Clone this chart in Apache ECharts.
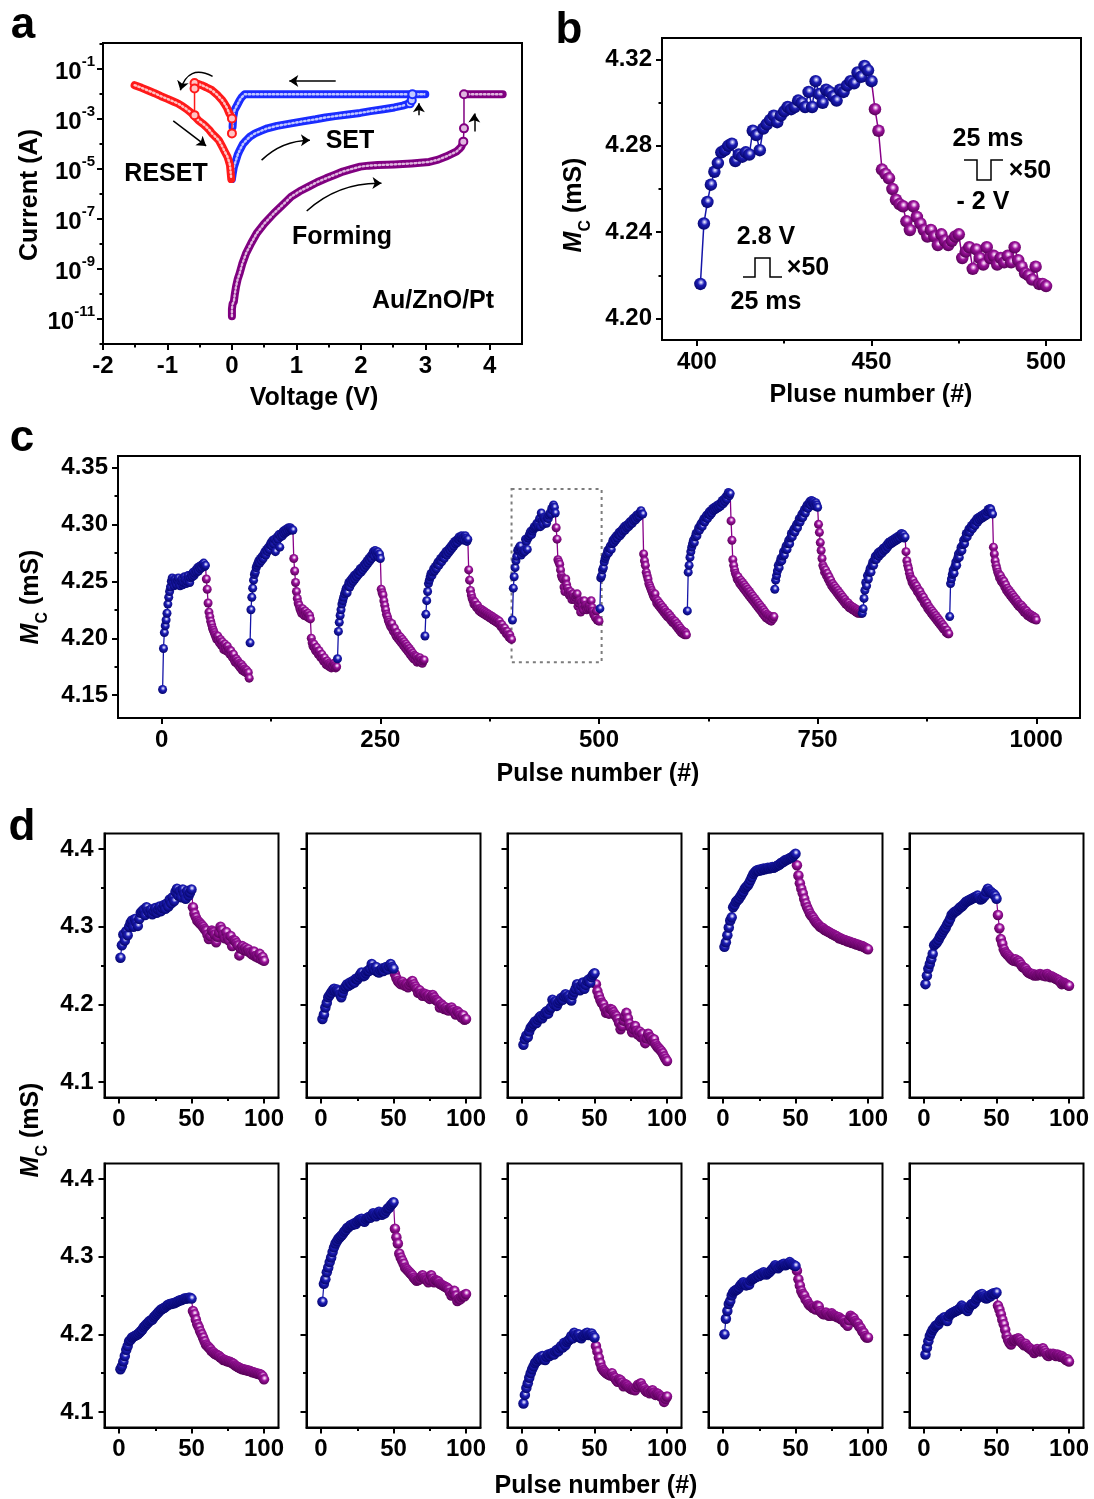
<!DOCTYPE html>
<html>
<head>
<meta charset="utf-8">
<script src="https://cdn.jsdelivr.net/npm/echarts@6/dist/echarts.min.js"></script>
<style>
  html, body { margin: 0; padding: 0; background: #fff; }
  #chart { width: 1094px; height: 1499px; }
</style>
</head>
<body>
<div id="chart"></div>
<script>
const FONT = '"Liberation Sans", Arial, sans-serif';

// ---------- (a) I-V sweeps, [voltage (V), current (A)] ----------
const formingIV = [[0,1.3e-11],[0,2.5e-11],[0.01,4e-11],[0.03,5e-11],[0.045,1e-10],[0.064,2e-10],[0.09,4e-10],[0.12,6.8e-10],[0.16,1.6e-9],[0.22,4.3e-9],[0.3,1.1e-8],[0.385,2.7e-8],[0.5,6.5e-8],[0.65,1.7e-7],[0.8,4e-7],[0.92,8e-7],[1.05,1.3e-6],[1.19,2e-6],[1.32,3e-6],[1.46,4.3e-6],[1.6,6e-6],[1.72,8e-6],[1.85,1e-5],[1.99,1.26e-5],[2.12,1.38e-5],[2.26,1.45e-5],[2.4,1.5e-5],[2.52,1.55e-5],[2.65,1.62e-5],[2.79,1.7e-5],[2.92,1.8e-5],[3.06,1.95e-5],[3.2,2.4e-5],[3.32,3.2e-5],[3.4,4e-5],[3.48,5e-5],[3.53,6.5e-5],[3.56,8e-5],[3.59,1.26e-4]];
const formingJumpIV = [[3.59,1.26e-4],[3.6,4.3e-4],[3.6,1e-2]];
const formingTopIV = [[3.6,1e-2],[3.7,1e-2],[3.8,1e-2],[3.9,1e-2],[4.0,1e-2],[4.1,1e-2],[4.2,1e-2]];
const setForwardIV = [[0,4e-6],[0.01,6e-6],[0.03,1.2e-5],[0.064,2.3e-5],[0.09,3.8e-5],[0.12,5.7e-5],[0.17,1e-4],[0.22,1.4e-4],[0.28,2e-4],[0.36,2.7e-4],[0.45,3.4e-4],[0.55,4.3e-4],[0.7,5.4e-4],[0.92,6.8e-4],[1.1,8.2e-4],[1.3,9.9e-4],[1.45,1.17e-3],[1.6,1.33e-3],[1.8,1.55e-3],[1.99,1.78e-3],[2.15,2.1e-3],[2.35,2.5e-3],[2.52,2.95e-3],[2.65,3.5e-3],[2.76,4.3e-3]];
const setJumpIV = [[2.76,4.3e-3],[2.79,5.7e-3],[2.8,1e-2]];
const setReturnIV = [[2.8,1e-2],[3.0,1e-2],[2.6,1e-2],[2.2,1e-2],[1.8,1e-2],[1.4,1e-2],[1.0,1e-2],[0.6,1e-2],[0.3,1e-2],[0.2,1e-2],[0.15,7.5e-3],[0.12,5.7e-3],[0.08,3.6e-3],[0.04,2.3e-3],[0.02,1.2e-3],[0.01,4.9e-4]];
const resetUpperIV = [[0,1.07e-3],[-0.02,1.4e-3],[-0.04,1.7e-3],[-0.08,3e-3],[-0.12,4.4e-3],[-0.15,5.7e-3],[-0.22,9e-3],[-0.31,1.45e-2],[-0.4,1.9e-2],[-0.47,2.3e-2],[-0.53,2.6e-2],[-0.58,2.8e-2]];
const resetJumpIV = [[0,2.7e-4],[0,1.07e-3]];
const resetDropIV = [[-0.58,2.8e-2],[-0.58,1.7e-2],[-0.58,1.45e-3]];
const resetLowerIV = [[-1.51,2.3e-2],[-1.4,1.8e-2],[-1.3,1.4e-2],[-1.2,1.1e-2],[-1.1,8.3e-3],[-1.0,6.5e-3],[-0.9,5e-3],[-0.84,4.3e-3],[-0.77,3.3e-3],[-0.7,2.5e-3],[-0.62,1.7e-3],[-0.52,9e-4],[-0.45,6.5e-4],[-0.4,5e-4],[-0.35,3.7e-4],[-0.31,2.7e-4],[-0.25,1.9e-4],[-0.2,1.4e-4],[-0.15,8e-5],[-0.11,5e-5],[-0.07,3.2e-5],[-0.05,2.2e-5],[-0.03,1.45e-5],[-0.01,4e-6]];
// sweep-direction arrows: [[V1, I1], [V2, I2], curveness]
const sweepArrows = [
  [[1.61,3.4e-2],[0.89,3.4e-2],0],
  [[2.9,1.45e-3],[2.9,4.3e-3],0],
  [[3.76,3.2e-4],[3.76,1.7e-3],0],
  [[-0.3,5.2e-2],[-0.8,1.45e-2],-0.6],
  [[-0.91,8.5e-4],[-0.4,8.5e-5],0],
  [[0.46,2.3e-5],[1.21,1.45e-4],0.2],
  [[1.16,2.1e-7],[2.32,2.7e-6],0.2]
];
const aVoltTicks = [-2,-1,0,1,2,3,4];
const aVoltMinor = [-1.5,-0.5,0.5,1.5,2.5,3.5];
const aExpLabels = [-11,-9,-7,-5,-3,-1];
const aExpMinor = [-12,-10,-8,-6,-4,-2,0];

// ---------- (b) pulses 401-500 ----------
const bFirstPulse = 401;
const bBlue = [4.216,4.244,4.254,4.262,4.268,4.272,4.277,4.278,4.280,4.281,4.273,4.276,4.275,4.277,4.276,4.287,4.285,4.278,4.288,4.290,4.292,4.294,4.291,4.294,4.296,4.298,4.297,4.298,4.301,4.300,4.298,4.305,4.298,4.310,4.304,4.300,4.306,4.305,4.303,4.301,4.306,4.305,4.308,4.310,4.309,4.314,4.312,4.317,4.315,4.310];
const bPurple = [4.297,4.287,4.269,4.267,4.265,4.260,4.255,4.253,4.252,4.245,4.241,4.252,4.247,4.244,4.241,4.238,4.241,4.238,4.234,4.239,4.236,4.234,4.236,4.238,4.239,4.228,4.231,4.233,4.223,4.232,4.228,4.225,4.233,4.228,4.229,4.225,4.228,4.226,4.229,4.226,4.233,4.227,4.224,4.221,4.220,4.218,4.224,4.216,4.216,4.215];
const bPulseTicks = [400,450,500];
const bPulseMinor = [425,475];
const bMcTicks = [4.20,4.24,4.28,4.32];
const bMcMinor = [4.22,4.26,4.30];

// ---------- (c) ten potentiation/depression cycles ----------
const cycleBlue = [
  [4.155,4.191,4.205,4.211,4.216,4.222,4.230,4.236,4.241,4.245,4.250,4.253,4.248,4.246,4.252,4.249,4.247,4.251,4.253,4.248,4.246,4.250,4.252,4.247,4.249,4.254,4.251,4.248,4.250,4.255,4.252,4.249,4.253,4.256,4.254,4.258,4.255,4.257,4.260,4.258,4.262,4.259,4.263,4.261,4.264,4.262,4.265,4.266,4.263,4.264],
  [4.196,4.225,4.236,4.244,4.251,4.256,4.258,4.262,4.264,4.266,4.268,4.266,4.270,4.268,4.272,4.270,4.274,4.276,4.273,4.278,4.276,4.280,4.278,4.282,4.284,4.281,4.286,4.283,4.287,4.276,4.285,4.289,4.287,4.291,4.280,4.289,4.292,4.290,4.294,4.292,4.295,4.293,4.296,4.294,4.297,4.295,4.297,4.296,4.295,4.295],
  [4.182,4.206,4.214,4.220,4.225,4.230,4.233,4.236,4.239,4.241,4.244,4.240,4.246,4.249,4.245,4.251,4.248,4.253,4.250,4.255,4.252,4.256,4.254,4.258,4.256,4.259,4.261,4.258,4.262,4.260,4.264,4.262,4.266,4.264,4.268,4.266,4.270,4.268,4.272,4.270,4.274,4.276,4.272,4.277,4.275,4.273,4.276,4.271,4.274,4.270],
  [4.202,4.221,4.233,4.241,4.248,4.251,4.254,4.257,4.255,4.258,4.261,4.259,4.263,4.261,4.265,4.267,4.264,4.268,4.270,4.267,4.271,4.273,4.270,4.274,4.276,4.273,4.277,4.275,4.279,4.277,4.281,4.279,4.283,4.281,4.285,4.283,4.286,4.284,4.287,4.289,4.286,4.288,4.290,4.287,4.289,4.286,4.290,4.288,4.285,4.287],
  bBlue,
  [4.226,4.253,4.255,4.260,4.262,4.267,4.270,4.272,4.274,4.277,4.275,4.279,4.281,4.278,4.283,4.286,4.284,4.288,4.286,4.290,4.288,4.291,4.293,4.290,4.294,4.292,4.296,4.294,4.298,4.295,4.299,4.297,4.300,4.298,4.302,4.300,4.303,4.301,4.305,4.303,4.306,4.304,4.308,4.306,4.309,4.307,4.310,4.312,4.309,4.309],
  [4.224,4.258,4.264,4.271,4.276,4.280,4.283,4.286,4.284,4.289,4.292,4.290,4.294,4.297,4.295,4.299,4.301,4.298,4.303,4.305,4.302,4.306,4.308,4.305,4.309,4.311,4.308,4.312,4.310,4.314,4.312,4.315,4.313,4.316,4.314,4.317,4.315,4.318,4.316,4.319,4.321,4.318,4.322,4.320,4.324,4.322,4.326,4.328,4.325,4.327],
  [4.243,4.251,4.255,4.259,4.264,4.262,4.267,4.270,4.268,4.272,4.276,4.273,4.278,4.281,4.278,4.283,4.286,4.283,4.288,4.292,4.289,4.294,4.296,4.293,4.298,4.300,4.297,4.302,4.305,4.302,4.306,4.309,4.306,4.311,4.313,4.310,4.315,4.317,4.314,4.318,4.320,4.317,4.321,4.319,4.320,4.318,4.316,4.319,4.317,4.315],
  [4.222,4.226,4.235,4.242,4.249,4.246,4.255,4.252,4.258,4.261,4.258,4.264,4.267,4.264,4.269,4.272,4.269,4.273,4.275,4.272,4.276,4.274,4.277,4.275,4.279,4.277,4.280,4.278,4.282,4.280,4.284,4.282,4.285,4.283,4.286,4.284,4.287,4.285,4.288,4.286,4.289,4.287,4.290,4.288,4.291,4.292,4.289,4.291,4.288,4.289],
  [4.219,4.248,4.252,4.256,4.260,4.257,4.263,4.267,4.264,4.270,4.274,4.271,4.276,4.280,4.277,4.282,4.286,4.283,4.288,4.292,4.289,4.293,4.296,4.293,4.297,4.299,4.296,4.300,4.302,4.299,4.303,4.305,4.302,4.306,4.304,4.307,4.305,4.308,4.306,4.309,4.307,4.310,4.308,4.311,4.313,4.312,4.314,4.313,4.310,4.309]
];
const cyclePurple = [
  [4.252,4.243,4.231,4.223,4.219,4.215,4.212,4.209,4.207,4.205,4.203,4.201,4.199,4.202,4.198,4.196,4.199,4.194,4.197,4.193,4.190,4.195,4.191,4.189,4.193,4.188,4.190,4.186,4.189,4.185,4.183,4.186,4.181,4.179,4.182,4.178,4.180,4.176,4.178,4.174,4.177,4.172,4.175,4.171,4.173,4.170,4.172,4.169,4.170,4.165],
  [4.270,4.259,4.249,4.241,4.235,4.231,4.229,4.226,4.224,4.222,4.226,4.223,4.220,4.224,4.221,4.219,4.222,4.218,4.220,4.217,4.200,4.196,4.193,4.195,4.191,4.189,4.192,4.188,4.186,4.189,4.185,4.183,4.186,4.182,4.180,4.183,4.179,4.177,4.180,4.176,4.178,4.175,4.177,4.174,4.176,4.175,4.178,4.176,4.174,4.175],
  [4.243,4.240,4.238,4.233,4.229,4.225,4.221,4.219,4.216,4.214,4.212,4.210,4.213,4.208,4.206,4.209,4.204,4.202,4.205,4.200,4.202,4.198,4.201,4.196,4.199,4.194,4.197,4.192,4.195,4.190,4.193,4.188,4.191,4.186,4.189,4.184,4.187,4.182,4.185,4.181,4.184,4.179,4.182,4.180,4.183,4.179,4.181,4.178,4.180,4.181],
  [4.260,4.251,4.242,4.238,4.235,4.233,4.230,4.232,4.229,4.227,4.229,4.226,4.224,4.226,4.223,4.225,4.222,4.224,4.221,4.223,4.220,4.222,4.219,4.221,4.218,4.220,4.217,4.219,4.216,4.218,4.215,4.217,4.214,4.216,4.213,4.215,4.212,4.210,4.212,4.209,4.207,4.209,4.206,4.204,4.206,4.203,4.201,4.203,4.200,4.199],
  bPurple,
  [4.274,4.268,4.264,4.258,4.255,4.252,4.248,4.246,4.244,4.242,4.240,4.238,4.236,4.239,4.234,4.231,4.233,4.229,4.231,4.227,4.229,4.225,4.227,4.223,4.225,4.221,4.223,4.219,4.222,4.218,4.220,4.216,4.218,4.214,4.216,4.213,4.215,4.211,4.213,4.209,4.211,4.207,4.209,4.205,4.207,4.204,4.206,4.203,4.205,4.203],
  [4.303,4.286,4.269,4.264,4.260,4.257,4.255,4.252,4.254,4.250,4.248,4.251,4.246,4.249,4.244,4.247,4.242,4.245,4.240,4.243,4.238,4.241,4.236,4.239,4.234,4.237,4.232,4.235,4.230,4.233,4.228,4.231,4.226,4.229,4.224,4.227,4.222,4.225,4.220,4.223,4.218,4.221,4.217,4.220,4.216,4.219,4.215,4.218,4.217,4.219],
  [4.300,4.293,4.284,4.277,4.270,4.264,4.262,4.258,4.260,4.255,4.257,4.252,4.254,4.249,4.251,4.246,4.248,4.244,4.246,4.242,4.244,4.240,4.242,4.238,4.240,4.236,4.238,4.234,4.236,4.232,4.234,4.230,4.232,4.229,4.231,4.227,4.229,4.226,4.228,4.225,4.227,4.224,4.226,4.223,4.225,4.222,4.224,4.222,4.223,4.222],
  [4.276,4.268,4.264,4.261,4.257,4.254,4.252,4.249,4.251,4.246,4.248,4.244,4.246,4.241,4.243,4.239,4.241,4.236,4.238,4.234,4.236,4.231,4.233,4.229,4.231,4.226,4.228,4.224,4.226,4.222,4.224,4.220,4.222,4.218,4.220,4.216,4.218,4.214,4.216,4.212,4.214,4.210,4.212,4.208,4.210,4.207,4.205,4.207,4.204,4.204],
  [4.280,4.274,4.268,4.264,4.261,4.258,4.256,4.253,4.255,4.250,4.252,4.248,4.250,4.245,4.247,4.242,4.244,4.240,4.242,4.238,4.240,4.236,4.238,4.234,4.236,4.232,4.234,4.230,4.232,4.228,4.230,4.227,4.229,4.225,4.227,4.223,4.225,4.222,4.224,4.220,4.222,4.219,4.221,4.218,4.220,4.217,4.219,4.217,4.218,4.216]
];
const cPulseTicks = [0,250,500,750,1000];
const cPulseMinor = [125,375,625,875];
const cMcTicks = [4.15,4.20,4.25,4.30,4.35];
const cMcMinor = [4.175,4.225,4.275,4.325];
const cHighlight = { pulses: [400, 503], mc: [4.179, 4.331] };

// ---------- (d) ten separate 100-pulse runs ----------
const runBlue = [
  [4.260,4.276,4.290,4.282,4.294,4.289,4.300,4.305,4.308,4.300,4.310,4.305,4.301,4.310,4.318,4.320,4.322,4.315,4.325,4.320,4.318,4.322,4.316,4.320,4.324,4.318,4.322,4.326,4.320,4.324,4.328,4.323,4.330,4.326,4.335,4.330,4.338,4.333,4.345,4.349,4.340,4.346,4.338,4.348,4.342,4.336,4.346,4.340,4.344,4.348],
  [4.181,4.187,4.196,4.202,4.209,4.212,4.215,4.218,4.220,4.217,4.219,4.217,4.213,4.209,4.215,4.220,4.223,4.226,4.224,4.228,4.226,4.230,4.228,4.233,4.232,4.235,4.238,4.241,4.236,4.237,4.240,4.243,4.243,4.246,4.252,4.247,4.244,4.248,4.242,4.241,4.244,4.246,4.243,4.247,4.248,4.245,4.249,4.252,4.248,4.246],
  [4.148,4.155,4.160,4.158,4.165,4.170,4.172,4.175,4.178,4.176,4.180,4.183,4.185,4.182,4.186,4.189,4.191,4.188,4.193,4.196,4.206,4.200,4.204,4.198,4.202,4.205,4.208,4.206,4.210,4.213,4.209,4.211,4.207,4.205,4.212,4.216,4.220,4.226,4.222,4.218,4.224,4.228,4.220,4.225,4.230,4.232,4.228,4.235,4.238,4.240],
  [4.274,4.280,4.289,4.299,4.308,4.312,4.325,4.328,4.332,4.334,4.336,4.339,4.342,4.345,4.349,4.351,4.353,4.356,4.360,4.364,4.368,4.370,4.372,4.373,4.372,4.374,4.373,4.375,4.374,4.375,4.376,4.375,4.376,4.377,4.376,4.377,4.378,4.379,4.380,4.382,4.383,4.384,4.386,4.386,4.387,4.388,4.389,4.390,4.392,4.394],
  [4.226,4.237,4.246,4.252,4.258,4.265,4.276,4.278,4.280,4.283,4.287,4.290,4.293,4.296,4.299,4.303,4.306,4.310,4.315,4.317,4.319,4.320,4.321,4.323,4.325,4.326,4.328,4.330,4.332,4.333,4.334,4.335,4.336,4.337,4.338,4.339,4.340,4.337,4.335,4.336,4.338,4.340,4.345,4.349,4.346,4.345,4.343,4.342,4.340,4.336],
  [4.155,4.159,4.165,4.172,4.180,4.185,4.191,4.193,4.196,4.197,4.198,4.199,4.200,4.202,4.204,4.206,4.209,4.211,4.213,4.215,4.217,4.218,4.219,4.222,4.224,4.226,4.228,4.230,4.232,4.233,4.234,4.235,4.237,4.238,4.239,4.239,4.240,4.240,4.241,4.242,4.243,4.244,4.244,4.245,4.246,4.246,4.246,4.247,4.247,4.246],
  [4.242,4.265,4.271,4.280,4.286,4.293,4.299,4.306,4.312,4.317,4.320,4.323,4.325,4.327,4.329,4.332,4.334,4.337,4.338,4.340,4.341,4.341,4.343,4.342,4.345,4.347,4.348,4.349,4.347,4.345,4.348,4.350,4.351,4.350,4.353,4.356,4.354,4.352,4.355,4.358,4.356,4.354,4.357,4.356,4.359,4.362,4.363,4.366,4.368,4.370],
  [4.111,4.122,4.131,4.137,4.144,4.150,4.155,4.159,4.163,4.165,4.168,4.170,4.168,4.172,4.168,4.167,4.171,4.174,4.172,4.175,4.176,4.174,4.178,4.180,4.178,4.182,4.185,4.183,4.189,4.186,4.190,4.192,4.194,4.198,4.195,4.202,4.199,4.197,4.200,4.196,4.195,4.198,4.199,4.201,4.202,4.199,4.200,4.201,4.198,4.196],
  [4.200,4.220,4.230,4.239,4.243,4.250,4.254,4.256,4.257,4.258,4.260,4.263,4.265,4.267,4.265,4.263,4.266,4.264,4.269,4.271,4.272,4.273,4.274,4.276,4.275,4.278,4.277,4.280,4.278,4.277,4.279,4.280,4.282,4.284,4.286,4.289,4.287,4.285,4.287,4.289,4.290,4.291,4.289,4.290,4.291,4.293,4.291,4.290,4.289,4.288],
  [4.174,4.183,4.191,4.198,4.202,4.206,4.208,4.211,4.212,4.213,4.217,4.219,4.220,4.222,4.219,4.217,4.223,4.226,4.227,4.228,4.229,4.230,4.231,4.232,4.234,4.237,4.235,4.233,4.232,4.230,4.234,4.237,4.239,4.239,4.241,4.245,4.247,4.250,4.251,4.252,4.249,4.247,4.246,4.247,4.250,4.249,4.252,4.253,4.252,4.254]
];
const runPurple = [
  [4.325,4.317,4.312,4.308,4.306,4.304,4.302,4.300,4.297,4.295,4.290,4.284,4.288,4.295,4.293,4.290,4.280,4.287,4.292,4.300,4.296,4.290,4.285,4.293,4.286,4.282,4.288,4.275,4.283,4.282,4.279,4.276,4.263,4.272,4.275,4.270,4.273,4.269,4.271,4.267,4.266,4.264,4.268,4.262,4.263,4.260,4.265,4.258,4.261,4.256],
  [4.239,4.234,4.230,4.228,4.226,4.229,4.226,4.224,4.226,4.222,4.225,4.228,4.230,4.226,4.223,4.220,4.215,4.218,4.214,4.211,4.214,4.213,4.210,4.212,4.207,4.210,4.212,4.209,4.206,4.205,4.203,4.196,4.200,4.198,4.194,4.196,4.193,4.192,4.195,4.196,4.193,4.190,4.187,4.191,4.189,4.186,4.183,4.186,4.180,4.181],
  [4.226,4.217,4.211,4.206,4.202,4.200,4.195,4.189,4.192,4.188,4.194,4.193,4.190,4.187,4.185,4.181,4.176,4.168,4.172,4.179,4.184,4.189,4.182,4.175,4.170,4.164,4.168,4.172,4.166,4.161,4.165,4.158,4.162,4.155,4.150,4.156,4.162,4.158,4.157,4.153,4.155,4.149,4.146,4.144,4.142,4.140,4.137,4.133,4.130,4.127],
  [4.379,4.366,4.356,4.349,4.343,4.336,4.330,4.325,4.321,4.317,4.314,4.312,4.309,4.306,4.304,4.302,4.300,4.299,4.298,4.296,4.295,4.294,4.293,4.292,4.291,4.290,4.289,4.288,4.287,4.285,4.285,4.284,4.283,4.283,4.282,4.281,4.281,4.280,4.279,4.279,4.278,4.277,4.277,4.276,4.275,4.275,4.274,4.273,4.272,4.271],
  [4.315,4.298,4.284,4.278,4.271,4.267,4.265,4.263,4.261,4.259,4.257,4.256,4.258,4.255,4.256,4.254,4.251,4.248,4.247,4.246,4.243,4.241,4.240,4.239,4.239,4.237,4.238,4.237,4.238,4.239,4.238,4.237,4.238,4.236,4.239,4.237,4.235,4.236,4.235,4.234,4.233,4.232,4.231,4.229,4.226,4.228,4.227,4.226,4.225,4.224],
  [4.230,4.226,4.219,4.213,4.209,4.204,4.200,4.196,4.191,4.187,4.185,4.183,4.181,4.178,4.177,4.175,4.174,4.173,4.172,4.170,4.169,4.167,4.167,4.166,4.165,4.165,4.164,4.163,4.162,4.160,4.159,4.158,4.157,4.156,4.155,4.155,4.154,4.154,4.153,4.153,4.152,4.151,4.151,4.150,4.150,4.149,4.149,4.148,4.146,4.142],
  [4.336,4.325,4.317,4.304,4.299,4.295,4.291,4.286,4.284,4.282,4.280,4.278,4.276,4.273,4.271,4.269,4.270,4.271,4.274,4.276,4.273,4.271,4.270,4.267,4.270,4.276,4.272,4.267,4.270,4.269,4.268,4.265,4.264,4.263,4.262,4.261,4.260,4.258,4.254,4.250,4.253,4.256,4.250,4.243,4.246,4.245,4.248,4.250,4.249,4.252],
  [4.185,4.178,4.170,4.163,4.157,4.154,4.152,4.150,4.149,4.148,4.147,4.150,4.146,4.144,4.141,4.139,4.142,4.141,4.138,4.133,4.136,4.135,4.133,4.131,4.130,4.129,4.130,4.128,4.132,4.135,4.134,4.137,4.133,4.131,4.128,4.126,4.127,4.124,4.126,4.128,4.125,4.122,4.124,4.123,4.121,4.120,4.118,4.113,4.117,4.120],
  [4.282,4.271,4.263,4.256,4.252,4.250,4.245,4.243,4.239,4.237,4.236,4.234,4.235,4.232,4.237,4.236,4.230,4.228,4.226,4.226,4.228,4.226,4.224,4.224,4.227,4.225,4.224,4.223,4.222,4.222,4.220,4.219,4.218,4.215,4.214,4.211,4.218,4.224,4.222,4.221,4.217,4.215,4.214,4.210,4.208,4.204,4.202,4.198,4.196,4.196],
  [4.237,4.232,4.226,4.219,4.213,4.206,4.198,4.193,4.189,4.187,4.191,4.193,4.192,4.194,4.195,4.193,4.190,4.188,4.186,4.188,4.185,4.183,4.182,4.180,4.179,4.176,4.178,4.181,4.179,4.178,4.180,4.182,4.179,4.176,4.173,4.172,4.175,4.174,4.175,4.174,4.172,4.174,4.173,4.171,4.172,4.170,4.169,4.167,4.168,4.165]
];
const dPulseTicks = [0,50,100];
const dPulseMinor = [25,75];
const dMcTicks = [4.1,4.2,4.3,4.4];
const dMcMinor = [4.15,4.25,4.35];

// ---------- styling helpers ----------
const BLUE_LINE = '#1515a8';
const PURPLE_LINE = '#880088';
function sphere(stops) {
  return new echarts.graphic.RadialGradient(0.55, 0.38, 0.62, stops.map((c, i) => ({ offset: [0, 0.16, 0.42, 1][i], color: c })));
}
const BLUE_BALL = sphere(['#ffffff', '#a8a8ee', '#1d1db4', '#05056c']);
const PURPLE_BALL = sphere(['#ffffff', '#e6a8e6', '#9a129a', '#560056']);

const grids = [], xAxes = [], yAxes = [], series = [];

function axisPair(gi, spec, dim) {
  const pos = dim === 'x' ? 'bottom' : 'left';
  const main = {
    type: 'value', gridIndex: gi, position: pos, min: spec.min, max: spec.max,
    axisLine: { show: true, onZero: false, lineStyle: { color: '#000', width: 2 } },
    axisTick: { show: true, inside: false, customValues: spec.major, length: 6, lineStyle: { color: '#000', width: 2 } },
    axisLabel: spec.labels ? {
      show: true, customValues: spec.labels, formatter: spec.fmt, color: '#000',
      fontSize: 24, fontWeight: 'bold', fontFamily: FONT, margin: spec.margin, rich: spec.rich
    } : { show: false },
    splitLine: { show: false }
  };
  const minor = {
    type: 'value', gridIndex: gi, position: pos, min: spec.min, max: spec.max,
    axisLine: { show: false, onZero: false },
    axisTick: { show: true, inside: false, customValues: spec.minor, length: 3.5, lineStyle: { color: '#000', width: 2 } },
    axisLabel: { show: false }, splitLine: { show: false }
  };
  const list = dim === 'x' ? xAxes : yAxes;
  const idx = list.length;
  list.push(main, minor);
  return idx;
}

function addPanel(box, xs, ys) {
  const gi = grids.length;
  grids.push({ left: box[0], top: box[1], width: box[2], height: box[3], show: true,
    borderColor: '#000', borderWidth: 2, backgroundColor: 'transparent' });
  return { x: axisPair(gi, xs, 'x'), y: axisPair(gi, ys, 'y') };
}

function ballSeries(ax, data, isBlue, size, lw, extra) {
  return Object.assign({
    type: 'line', xAxisIndex: ax.x, yAxisIndex: ax.y, data: data,
    symbol: 'circle', symbolSize: size, showAllSymbol: true, connectNulls: false,
    lineStyle: { color: isBlue ? BLUE_LINE : PURPLE_LINE, width: lw },
    itemStyle: { color: isBlue ? BLUE_BALL : PURPLE_BALL, borderWidth: 0 },
    emphasis: { disabled: true }, animation: false
  }, extra || {});
}

// ---------- panel a ----------
const axA = addPanel([103, 43, 419, 301],
  { min: -2, max: 4.5, major: aVoltTicks, minor: aVoltMinor, labels: aVoltTicks, fmt: v => String(v), margin: 10 },
  { min: -12, max: 0.05, major: aExpLabels, minor: aExpMinor, labels: aExpLabels, margin: 8,
    fmt: v => '{b|10}{s|' + v + '}',
    rich: { b: { fontSize: 24, fontWeight: 'bold', fontFamily: FONT, color: '#000', lineHeight: 30, verticalAlign: 'bottom' },
            s: { fontSize: 15, fontWeight: 'bold', fontFamily: FONT, color: '#000', lineHeight: 16, verticalAlign: 'top' } } });
const toLog = arr => arr.map(p => [p[0], Math.log10(p[1])]);
// densely sampled sweep: a thick band with a speckled lighter core
function ivBand(data, line, core) {
  const base = { type: 'line', xAxisIndex: axA.x, yAxisIndex: axA.y, data: toLog(data),
    symbol: 'none', emphasis: { disabled: true }, animation: false };
  series.push(Object.assign({}, base, { lineStyle: { color: line, width: 8, cap: 'round', join: 'round' } }));
  series.push(Object.assign({}, base, { lineStyle: { color: core, width: 2.4, type: [1.5, 2.5], cap: 'round' } }));
}
// abrupt switching step: thin line with separate markers
function ivJump(data, line, core) {
  series.push({ type: 'line', xAxisIndex: axA.x, yAxisIndex: axA.y, data: toLog(data),
    symbol: 'circle', symbolSize: 8, showAllSymbol: true,
    lineStyle: { color: line, width: 1.5 },
    itemStyle: { color: core, borderColor: line, borderWidth: 2 },
    emphasis: { disabled: true }, animation: false });
}
const PURPLE_A = '#800080', BLUE_A = '#1a2cff', RED_A = '#ff1a1a';
ivJump(formingJumpIV, PURPLE_A, '#e0b8e0');
ivBand(formingIV, PURPLE_A, '#e0b8e0');
ivBand(formingTopIV, PURPLE_A, '#e0b8e0');
ivJump(setJumpIV, BLUE_A, '#c0c8ff');
ivBand(setForwardIV, BLUE_A, '#c0c8ff');
ivBand(setReturnIV, BLUE_A, '#c0c8ff');
ivJump(resetDropIV, RED_A, '#ffc4c4');
ivJump(resetJumpIV, RED_A, '#ffc4c4');
ivBand(resetLowerIV, RED_A, '#ffc4c4');
ivBand(resetUpperIV, RED_A, '#ffc4c4');
series.push({
  type: 'lines', coordinateSystem: 'cartesian2d', xAxisIndex: axA.x, yAxisIndex: axA.y,
  symbol: ['none', 'arrow'], symbolSize: 9, silent: true, animation: false,
  lineStyle: { color: '#000', width: 1.5, opacity: 1 },
  data: sweepArrows.map(a => ({
    coords: [[a[0][0], Math.log10(a[0][1])], [a[1][0], Math.log10(a[1][1])]],
    lineStyle: { curveness: a[2] }
  }))
});

// ---------- panel b ----------
const axB = addPanel([662, 38, 419, 302],
  { min: 390, max: 510, major: bPulseTicks, minor: bPulseMinor, labels: bPulseTicks, fmt: v => String(v), margin: 10 },
  { min: 4.19, max: 4.33, major: bMcTicks, minor: bMcMinor, labels: bMcTicks, fmt: v => v.toFixed(2), margin: 10 });
const bBlueData = bBlue.map((v, i) => [bFirstPulse + i, v]);
const bPurpleData = [{ value: bBlueData[bBlueData.length - 1], symbolSize: 0 }]
  .concat(bPurple.map((v, i) => [bFirstPulse + bBlue.length + i, v]));
series.push(ballSeries(axB, bPurpleData, false, 12.5, 1.5));
series.push(ballSeries(axB, bBlueData, true, 12.5, 1.5));

// ---------- panel c ----------
const axC = addPanel([118, 456, 962, 262],
  { min: -50, max: 1050, major: cPulseTicks, minor: cPulseMinor, labels: cPulseTicks, fmt: v => String(v), margin: 10 },
  { min: 4.13, max: 4.36, major: cMcTicks, minor: cMcMinor, labels: cMcTicks, fmt: v => v.toFixed(2), margin: 10 });
const cBlueData = [], cPurpleData = [];
cycleBlue.forEach((cyc, k) => {
  const base = k * 100;
  cyc.forEach((v, i) => cBlueData.push([base + i + 1, v]));
  cBlueData.push([base + 50.5, '-']);
  cPurpleData.push({ value: [base + cyc.length, cyc[cyc.length - 1]], symbolSize: 0 });
  cyclePurple[k].forEach((v, i) => cPurpleData.push([base + cyc.length + i + 1, v]));
  cPurpleData.push([base + 100.5, '-']);
});
series.push(ballSeries(axC, cPurpleData, false, 9, 1.3, {
  markArea: {
    silent: true,
    itemStyle: { color: 'rgba(0,0,0,0)', borderColor: '#7c7c7c', borderWidth: 2, borderType: [3, 4] },
    data: [[{ coord: [cHighlight.pulses[0], cHighlight.mc[1]] }, { coord: [cHighlight.pulses[1], cHighlight.mc[0]] }]]
  }
}));
series.push(ballSeries(axC, cBlueData, true, 9, 1.3));

// ---------- panel d ----------
const dLefts = [104.5, 306.5, 507.5, 708.5, 909.5];
const dTops = [833.5, 1163.5];
runBlue.forEach((blue, k) => {
  const col = k % 5, row = Math.floor(k / 5);
  const ax = addPanel([dLefts[col], dTops[row], 174, 264],
    { min: -10, max: 110, major: dPulseTicks, minor: dPulseMinor, labels: dPulseTicks, fmt: v => String(v), margin: 10 },
    { min: 4.08, max: 4.42, major: dMcTicks, minor: dMcMinor, labels: col === 0 ? dMcTicks : null, fmt: v => v.toFixed(1), margin: 11 });
  const bd = blue.map((v, i) => [i + 1, v]);
  const pd = [{ value: bd[bd.length - 1], symbolSize: 0 }].concat(runPurple[k].map((v, i) => [blue.length + i + 1, v]));
  series.push(ballSeries(ax, pd, false, 10.5, 1.2));
  series.push(ballSeries(ax, bd, true, 10.5, 1.2));
});

// ---------- titles and annotations ----------
function label(text, x, y, size, opts) {
  return Object.assign({
    type: 'text', x: x, y: y, silent: true, z: 10,
    style: Object.assign({ text: text, fontSize: size, fontWeight: 'bold', fontFamily: FONT, fill: '#000',
      align: 'center', verticalAlign: 'middle' }, (opts && opts.style) || {})
  }, (opts && opts.el) || {});
}
const mcRich = {
  m: { fontSize: 25, fontWeight: 'bold', fontStyle: 'italic', fontFamily: FONT, fill: '#000', lineHeight: 32, verticalAlign: 'top' },
  c: { fontSize: 16, fontWeight: 'bold', fontFamily: FONT, fill: '#000', lineHeight: 18, verticalAlign: 'bottom' },
  n: { fontSize: 25, fontWeight: 'bold', fontFamily: FONT, fill: '#000', lineHeight: 32, verticalAlign: 'top' }
};
function mcTitle(x, y) {
  return label('{m|M}{c|C}{n| (mS)}', x, y, 25, { el: { rotation: Math.PI / 2 }, style: { rich: mcRich } });
}
const graphics = [
  label('a', 23, 26, 44), label('b', 569, 31, 44), label('c', 22, 439, 44), label('d', 22, 828, 44),
  label('Voltage (V)', 314, 398, 25),
  label('Current (A)', 30, 195, 25, { el: { rotation: Math.PI / 2 } }),
  label('Pluse number (#)', 871, 395, 25),
  mcTitle(578, 205),
  label('Pulse number (#)', 598, 774, 25),
  mcTitle(35, 597),
  label('Pulse number (#)', 596, 1486, 25),
  mcTitle(35, 1130),
  label('RESET', 166, 174, 25), label('SET', 350, 141, 25), label('Forming', 342, 237, 25),
  label('Au/ZnO/Pt', 433, 301, 25),
  label('2.8 V', 766, 237, 25), label('25 ms', 766, 302, 25), label('\u00d750', 808, 268, 25),
  label('25 ms', 988, 139, 25), label('\u00d750', 1030, 171, 25), label('- 2 V', 983, 202, 25),
  { type: 'polyline', silent: true, shape: { points: [[743,277],[755,277],[755,258],[770,258],[770,277],[782,277]] },
    style: { stroke: '#000', lineWidth: 1.5, fill: null } },
  { type: 'polyline', silent: true, shape: { points: [[964,160],[977,160],[977,180],[991,180],[991,160],[1003,160]] },
    style: { stroke: '#000', lineWidth: 1.5, fill: null } }
];

const chart = echarts.init(document.getElementById('chart'), null, { renderer: 'canvas' });
chart.setOption({
  backgroundColor: '#fff',
  animation: false,
  grid: grids,
  xAxis: xAxes,
  yAxis: yAxes,
  series: series,
  graphic: graphics
});
</script>
</body>
</html>
